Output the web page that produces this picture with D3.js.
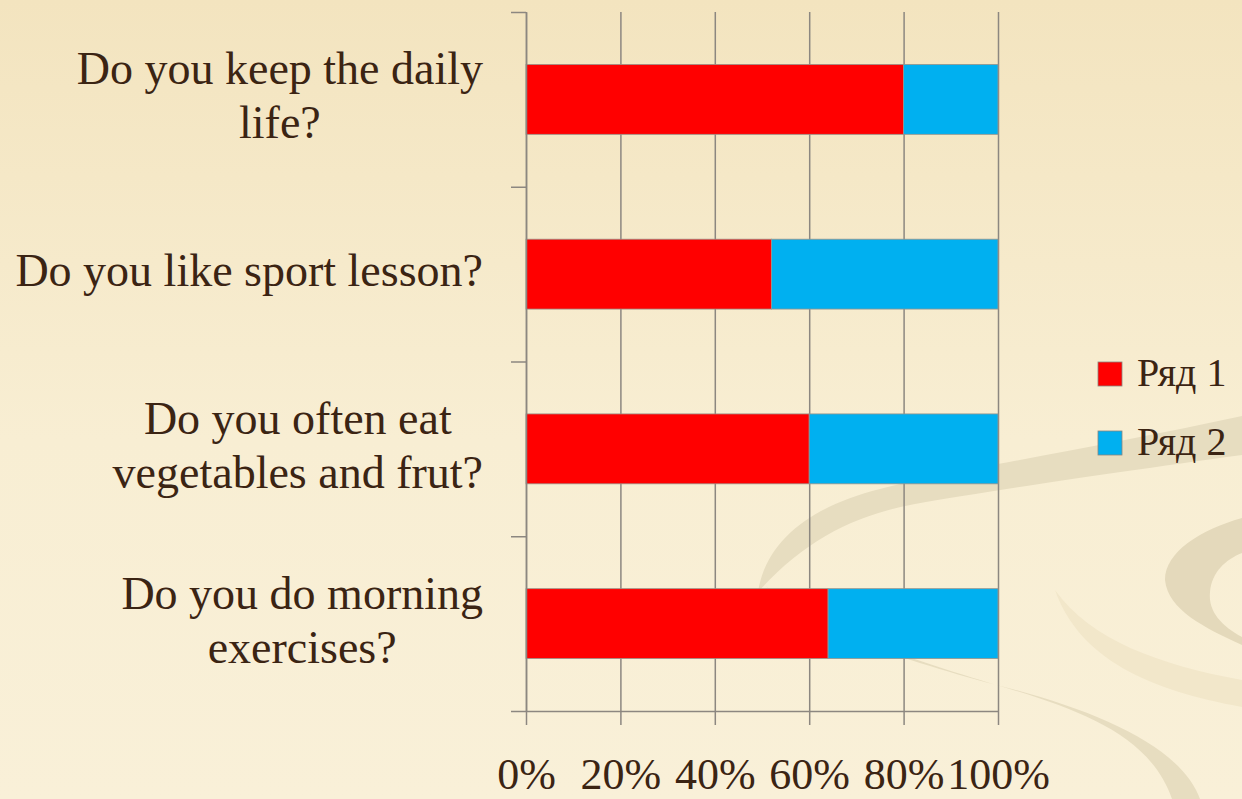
<!DOCTYPE html>
<html>
<head>
<meta charset="utf-8">
<script src="https://cdn.jsdelivr.net/npm/d3@7"></script>
<style>
  html, body { margin: 0; padding: 0; background: #f6ebcc; }
  svg { display: block; }
  text { font-family: "Liberation Serif", "Times New Roman", serif; fill: #3b2413; }
</style>
</head>
<body>
<div id="chart"></div>
<script>
// categories, bottom to top (Excel order)
const categoryLines = [
  ['Do you do morning', 'exercises?'],
  ['Do you often eat', 'vegetables and frut?'],
  ['Do you like sport lesson?'],
  ['Do you keep the daily', 'life?']
];
const categories = categoryLines.map(l => l.join(' '));
const series1 = [64, 60, 52, 80];
const series2 = [36, 40, 48, 20];
const seriesNames = ['Ряд 1', 'Ряд 2'];
const seriesColors = ['#ff0000', '#00b0f0'];
const xTicks = [0, 0.2, 0.4, 0.6, 0.8, 1];

const width = 1242, height = 799;
const plot = { left: 526, right: 998, top: 12, bottom: 711 };
const gridColor = '#8c8780';

const svg = d3.select('#chart').append('svg')
   .attr('width', width)
   .attr('height', height);

// background + swirl decoration
const defs = svg.append('defs');
const grad = defs.append('linearGradient')
   .attr('id', 'bg').attr('x1', 0).attr('y1', 0).attr('x2', 0).attr('y2', 1);
grad.append('stop').attr('offset', '0%').attr('stop-color', '#f3e4bf');
grad.append('stop').attr('offset', '55%').attr('stop-color', '#f8eed3');
grad.append('stop').attr('offset', '100%').attr('stop-color', '#f9f0d8');

svg.append('rect').attr('width', width).attr('height', height).attr('fill', 'url(#bg)');

const decor = svg.append('g').attr('class', 'decor');
decor.append('path')
   .attr('fill', '#f2e7ca')
   .attr('d', 'M1055,590 C1090,640 1160,665 1242,680 L1242,707 C1150,690 1080,660 1055,590 Z');
decor.append('path')
   .attr('fill', '#e7ddc0')
   .attr('d', 'M758,592 C766,540 812,506 880,489 C960,469 1100,447 1242,416 L1242,455 C1110,473 990,491 915,504 C855,515 805,540 758,592 Z');
decor.append('path')
   .attr('fill', '#e7ddc0')
   .attr('d', 'M765,585 C800,622 900,656 1000,686 C1080,710 1150,735 1172,799 L1200,799 C1182,748 1100,712 1008,688 C900,660 800,626 765,585 Z');
decor.append('path')
   .attr('fill', '#e4d9bb')
   .attr('d', 'M1242,518 C1200,530 1165,552 1165,580 C1168,610 1205,628 1242,645 L1242,637 C1222,626 1208,612 1210,592 C1212,572 1225,560 1242,553 Z');

// scales
const x = d3.scaleLinear().domain([0, 1]).range([plot.left, plot.right]);
const y = d3.scaleBand()
   .domain(categories)
   .range([plot.bottom, plot.top])
   .paddingInner(0.6)
   .paddingOuter(0.3);
const yEdge = d3.scaleLinear().domain([0, categories.length]).range([plot.bottom, plot.top]);

// gridlines
const grid = svg.append('g')
   .attr('transform', `translate(0,${plot.bottom})`)
   .call(d3.axisBottom(x).tickValues(xTicks).tickSize(-(plot.bottom - plot.top)).tickFormat(''));
grid.select('.domain').remove();
grid.selectAll('line').attr('stroke', gridColor).attr('stroke-width', 1.5);

// stacked bars
const rows = categories.map((c, i) => ({ category: c, s1: series1[i], s2: series2[i] }));
const stacked = d3.stack().keys(['s1', 's2']).offset(d3.stackOffsetExpand)(rows);

svg.append('g').selectAll('g')
   .data(stacked)
   .join('g')
      .attr('fill', (d, i) => seriesColors[i])
   .selectAll('rect')
   .data(d => d)
   .join('rect')
      .attr('x', d => x(d[0]))
      .attr('y', d => y(d.data.category))
      .attr('width', d => x(d[1]) - x(d[0]))
      .attr('height', y.bandwidth())
      .attr('stroke', '#9a948b')
      .attr('stroke-width', 0.8);

// category axis (ticks on band edges)
const yAxis = svg.append('g')
   .attr('transform', `translate(${plot.left},0)`)
   .call(d3.axisLeft(yEdge).tickValues(d3.range(categories.length + 1)).tickSize(15).tickSizeOuter(0).tickFormat(''));
yAxis.select('.domain').attr('stroke', gridColor).attr('stroke-width', 1.5);
yAxis.selectAll('line').attr('stroke', gridColor).attr('stroke-width', 1.5);

// value axis
const xAxis = svg.append('g')
   .attr('transform', `translate(0,${plot.bottom})`)
   .call(d3.axisBottom(x).tickValues(xTicks).tickSize(14).tickSizeOuter(0).tickPadding(33).tickFormat(d3.format('.0%')));
xAxis.select('.domain').attr('stroke', gridColor).attr('stroke-width', 1.5);
xAxis.selectAll('line').attr('stroke', gridColor).attr('stroke-width', 1.5);
xAxis.selectAll('text')
   .attr('font-size', 44)
   .style('font-family', '"Liberation Serif", serif')
   .attr('fill', '#3b2413');

// category labels: lines centred, block right-aligned
const labelRight = 483, lineGap = 54;
const labels = svg.append('g').selectAll('text')
   .data(categoryLines)
   .join('text')
      .attr('font-size', 46)
      .attr('text-anchor', 'middle');

labels.each(function(lines, i) {
   const t = d3.select(this);
   const cy = y(categories[i]) + y.bandwidth() / 2;
   const spans = t.selectAll('tspan')
      .data(lines)
      .join('tspan')
         .text(d => d)
         .attr('y', (d, j) => cy + (j - (lines.length - 1) / 2) * lineGap + 12);
   const maxW = d3.max(spans.nodes(), n => n.getComputedTextLength());
   spans.attr('x', labelRight - maxW / 2);
});

// legend
const legend = svg.append('g')
   .attr('transform', 'translate(1098,362)')
   .selectAll('g')
   .data(seriesNames)
   .join('g')
      .attr('transform', (d, i) => `translate(0,${i * 69})`);

legend.append('rect')
   .attr('width', 24)
   .attr('height', 24)
   .attr('fill', (d, i) => seriesColors[i])
   .attr('stroke', '#8a857d')
   .attr('stroke-width', 0.8);

legend.append('text')
   .attr('x', 39)
   .attr('y', 24)
   .attr('font-size', 40)
   .text(d => d);
</script>
</body>
</html>
